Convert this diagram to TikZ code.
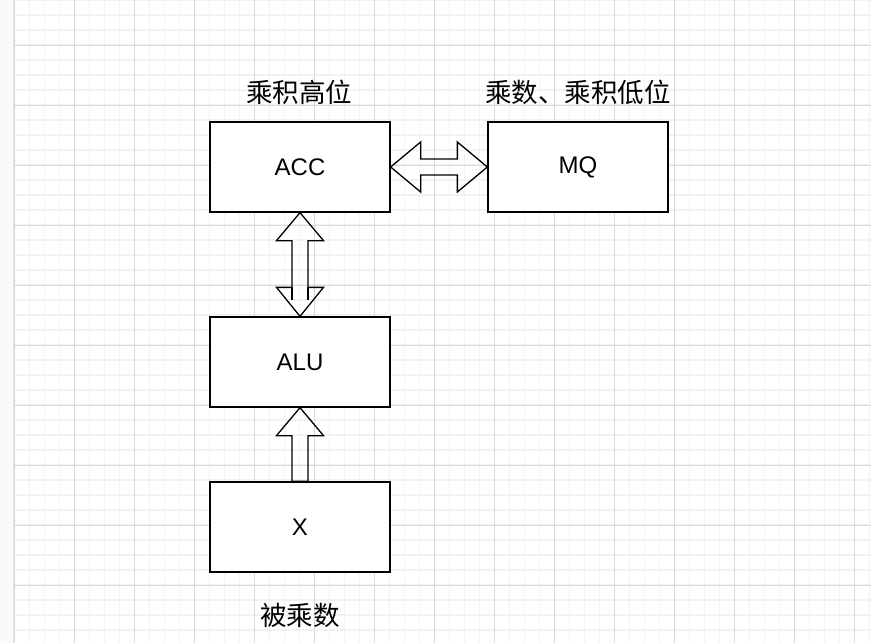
\documentclass[tikz,border=0pt]{standalone}
\usepackage{fontspec}
\setmainfont{Liberation Sans}
\newfontfamily\cjk{Noto Sans CJK SC}
\usetikzlibrary{calc}
\definecolor{minorgrid}{HTML}{F2F2F2}
\definecolor{majorgrid}{HTML}{D9D9D9}
\definecolor{sidebar}{HTML}{FAFAFA}
\definecolor{sideline}{HTML}{E3E3E3}
\tikzset{
  blk/.style={draw=black, line width=1.3pt, fill=white, minimum width=180pt, minimum height=90pt, inner sep=0pt, font=\fontsize{24}{28}\selectfont},
  lbl/.style={inner sep=0pt, font=\cjk\fontsize{26.5}{30}\selectfont},
  blockarrow/.style={draw=black, line width=1.3pt, line join=miter},
  minorline/.style={draw=minorgrid, line width=1.6pt},
  majorline/.style={draw=majorgrid, line width=1pt}
}
\begin{document}
\begin{tikzpicture}[x=1pt,y=-1pt]
\useasboundingbox (0,0) rectangle (871,643);
\fill[white] (0,0) rectangle (871,643);
\fill[sidebar] (0,0) rectangle (13,643);
\draw[sideline, line width=2pt] (13.5,0) -- (13.5,643);
% grid
\foreach \i in {0,...,57} { \draw[minorline] ({14.3+15*\i},0) -- ({14.3+15*\i},643); }
\foreach \j in {0,...,42} { \draw[minorline] (14.3,{15*\j}) -- (871,{15*\j}); }
\foreach \i in {0,...,14} { \draw[majorline] ({14.3+60*\i},0) -- ({14.3+60*\i},643); }
\foreach \j in {0,...,9} { \draw[majorline] (14.3,{45+60*\j}) -- (871,{45+60*\j}); }
% boxes
\node[blk] (acc) at (300,167) {ACC};
\node[blk] (mq) at (578,167) {MQ};
\node[blk] (alu) at (300,362) {ALU};
\node[blk] (x) at (300,527) {X};
% labels
\node[lbl] (l1) at (299,92) {乘积高位};
\node[lbl] (l2) at (578,92) {乘数、乘积低位};
\node[lbl] (l3) at (300,615) {被乘数};
% horizontal double arrow ACC <-> MQ
\draw[blockarrow] (acc.east) -- ($(acc.east)+(30,-25)$) -- ($(acc.east)+(30,-8)$)
  -- ($(mq.west)+(-30,-8)$) -- ($(mq.west)+(-30,-25)$) -- (mq.west)
  -- ($(mq.west)+(-30,25)$) -- ($(mq.west)+(-30,8)$) -- ($(acc.east)+(30,8)$)
  -- ($(acc.east)+(30,25)$) -- cycle;
% vertical double arrow ACC <-> ALU
\draw[blockarrow] (acc.south) -- ($(acc.south)+(23.5,28)$) -- ($(acc.south)+(8,28)$)
  -- ($(alu.north)+(8,-29)$) -- ($(alu.north)+(23.5,-29)$) -- (alu.north)
  -- ($(alu.north)+(-23.5,-29)$) -- ($(alu.north)+(-8,-29)$) -- ($(acc.south)+(-8,28)$)
  -- ($(acc.south)+(-23.5,28)$) -- cycle;
\draw[blockarrow] ($(alu.north)+(8,-29)$) -- ($(alu.north)+(8,-16)$);
\draw[blockarrow] ($(alu.north)+(-8,-29)$) -- ($(alu.north)+(-8,-16)$);
% single arrow X -> ALU
\draw[blockarrow] (alu.south) -- ($(alu.south)+(23.5,28)$) -- ($(alu.south)+(8,28)$)
  -- ($(x.north)+(8,0)$) -- ($(x.north)+(-8,0)$) -- ($(alu.south)+(-8,28)$)
  -- ($(alu.south)+(-23.5,28)$) -- cycle;
\end{tikzpicture}
\end{document}
